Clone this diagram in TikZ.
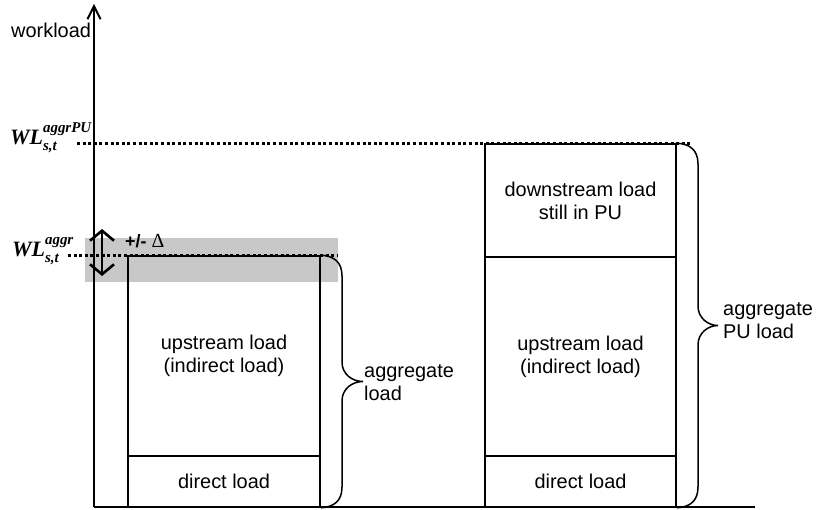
\documentclass[tikz,border=0pt]{standalone}
\usepackage{fontspec}
\setmainfont{Liberation Sans}
\newfontfamily\wlserif{Liberation Serif}
\usetikzlibrary{arrows.meta}
\definecolor{bandgray}{RGB}{200,200,200}
\begin{document}
\begin{tikzpicture}[x=1bp,y=-1bp,
  lbl/.style={font=\fontsize{20}{23}\selectfont, inner sep=0pt},
  seg/.style={draw, line width=1.6bp, inner sep=0pt, align=center,
              font=\fontsize{20}{23}\selectfont},
  axisline/.style={line width=2bp},
  dotline/.style={line width=3bp, dash pattern=on 3bp off 2.6bp},
  bracepath/.style={line width=1.5bp},
  wlbig/.style={inner sep=0pt, font=\wlserif\bfseries\itshape\fontsize{22}{22}\selectfont}
]
\useasboundingbox (0,0) rectangle (820,510);

% shaded tolerance band
\fill[bandgray] (85,238) rectangle (338,282);

% left column
\node[seg, minimum width=192bp, minimum height=200bp] (lup) at (224,356) {upstream load\\(indirect load)};
\node[seg, minimum width=192bp, minimum height=51bp] (ldir) at (224,481.5) {direct load};

% right column
\node[seg, minimum width=191bp, minimum height=113bp] (rdown) at (580.5,200.5) {downstream load\\still in PU};
\node[seg, minimum width=191bp, minimum height=199bp] (rup) at (580.5,356.5) {upstream load\\(indirect load)};
\node[seg, minimum width=191bp, minimum height=51bp] (rdir) at (580.5,481.5) {direct load};

% axes
\coordinate (o) at (94,507);
\coordinate (ytop) at (94,4);
\coordinate (xend) at (755,507);
\draw[axisline, -{Straight Barb[length=13bp,width=13bp]}] (o) -- (ytop);
\draw[axisline] (o) -- (xend);
\node[lbl, anchor=base west] (wlabel) at (11,38) {workload};

% level labels
\node[wlbig, anchor=base west] (wlpu) at (10,145)
  {WL\rlap{\raisebox{12bp}{\fontsize{15}{15}\selectfont aggrPU}}\raisebox{-6bp}{\fontsize{15}{15}\selectfont s,t}};
\node[wlbig, anchor=base west] (wlag) at (12,257)
  {WL\rlap{\raisebox{12bp}{\fontsize{15}{15}\selectfont aggr}}\raisebox{-6bp}{\fontsize{15}{15}\selectfont s,t}};

% dotted level lines
\coordinate (dpu1) at (77,144);
\coordinate (dpu2) at (692,144);
\coordinate (dag1) at (68,256);
\coordinate (dag2) at (337,256);
\draw[dotline] (dpu1) -- (dpu2);
\draw[dotline] (dag1) -- (dag2);

% +/- delta
\coordinate (da1) at (102,229);
\coordinate (da2) at (102,276);
\draw[line width=2.6bp, {Straight Barb[length=10bp,width=24bp]}-{Straight Barb[length=10bp,width=24bp]}] (da1) -- (da2);
\node[inner sep=0pt, anchor=base west] (delta) at (125,248)
  {\bfseries\fontsize{18}{18}\selectfont +/-\ {\wlserif\mdseries\fontsize{20}{20}\selectfont Δ}};

% braces
\draw[bracepath] (lup.north east) .. controls (334,256) and (342,262) .. (342,276)
  -- (342,362) .. controls (342,374) and (352,381.5) .. (363,381.5)
  .. controls (352,381.5) and (342,389) .. (342,401)
  -- (342,487) .. controls (342,501) and (334,507) .. (ldir.south east);
\draw[bracepath] (rdown.north east) .. controls (690,144) and (698,150) .. (698,164)
  -- (698,306) .. controls (698,318) and (708,325.5) .. (718,325.5)
  .. controls (708,325.5) and (698,333) .. (698,345)
  -- (698,487) .. controls (698,501) and (690,507) .. (rdir.south east);

\node[lbl, align=left, anchor=base west] (agl) at (364,400) {aggregate\\load};
\node[lbl, align=left, anchor=base west] (agr) at (723,338) {aggregate\\PU load};
\end{tikzpicture}
\end{document}
